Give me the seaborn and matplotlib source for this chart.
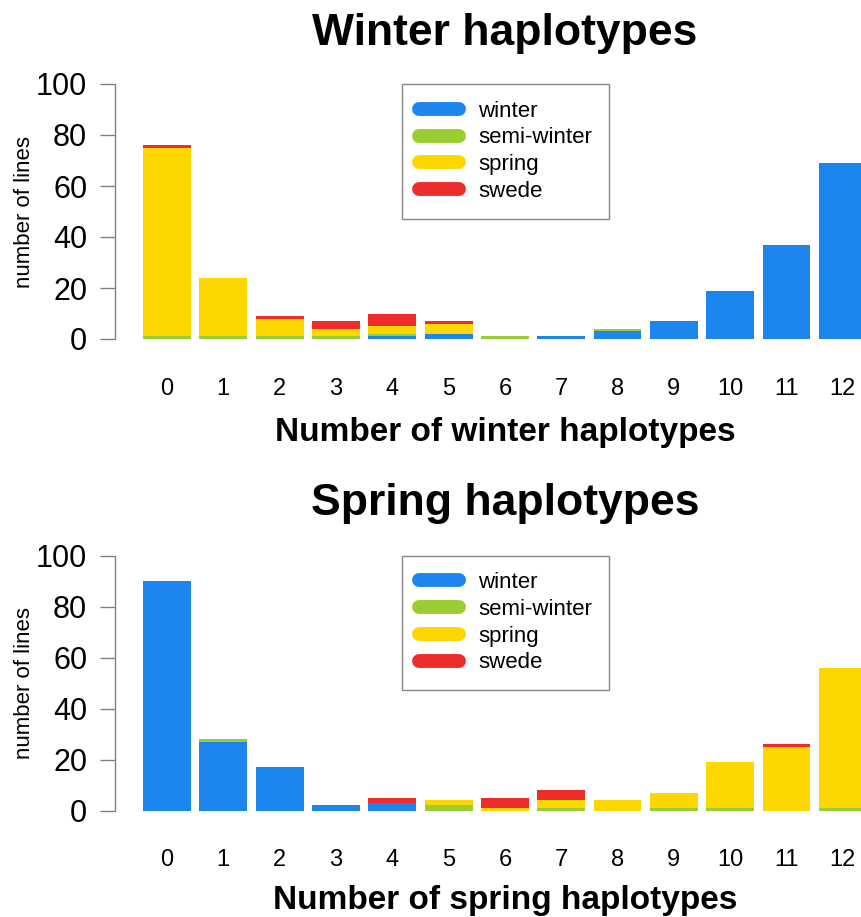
import pandas as pd
import seaborn as sns
import matplotlib.pyplot as plt
from matplotlib.lines import Line2D

# --- DATA ---
n_haplotypes = list(range(13))
groups = ["winter", "semi-winter", "spring", "swede"]

# winter haplotypes panel (stack: winter, semi-winter, spring, swede)
w_winter = [0, 0, 0, 0, 1, 2, 0, 1, 3, 7, 19, 37, 69]
w_semi = [1, 1, 1, 1, 1, 0, 1, 0, 1, 0, 0, 0, 0]
w_spring = [74, 23, 7, 3, 3, 4, 0, 0, 0, 0, 0, 0, 0]
w_swede = [1, 0, 1, 3, 5, 1, 0, 0, 0, 0, 0, 0, 0]

# spring haplotypes panel
s_winter = [90, 27, 17, 2, 3, 0, 0, 0, 0, 0, 0, 0, 0]
s_semi = [0, 1, 0, 0, 0, 2, 0, 1, 0, 1, 1, 0, 1]
s_spring = [0, 0, 0, 0, 0, 2, 1, 3, 4, 6, 18, 25, 55]
s_swede = [0, 0, 0, 0, 2, 0, 4, 4, 0, 0, 0, 1, 0]

colors = ["#1C86EE", "#9ACD32", "#FFD700", "#EE2C2C"]


def long_table(series):
    rows = []
    for g, vals in zip(groups, series):
        for n, v in zip(n_haplotypes, vals):
            rows.append({"n": n, "type": g, "count": v})
    return pd.DataFrame(rows)


df_w = long_table([w_winter, w_semi, w_spring, w_swede])
df_s = long_table([s_winter, s_semi, s_spring, s_swede])

# --- STYLE ---
sns.set_style("white")
plt.rcParams["font.family"] = ["Liberation Sans", "DejaVu Sans"]
plt.rcParams["text.color"] = "black"
plt.rcParams["xtick.color"] = "black"
plt.rcParams["ytick.color"] = "black"
plt.rcParams["axes.labelcolor"] = "black"

fig = plt.figure(figsize=(8.62, 9.17), dpi=100)
W, H = 862, 917

panels = [
    (df_w, 339, "Winter haplotypes", 33, "Number of winter haplotypes", 433),
    (df_s, 810.5, "Spring haplotypes", 504, "Number of spring haplotypes", 900),
]

for df, y0, title, title_y, xlab, xlab_y in panels:
    ax = fig.add_axes([115 / W, 1 - y0 / H, (W - 115) / W, 255 / H])
    # reversed hue order so winter ends up at the bottom of each stack
    sns.histplot(data=df, x="n", hue="type", weights="count", multiple="stack",
                 discrete=True, shrink=0.85, hue_order=groups[::-1],
                 palette=dict(zip(groups, colors)), linewidth=0, alpha=1,
                 legend=False, ax=ax)
    ax.set_xlim(-0.923, 12.34)
    ax.set_ylim(0, 100)
    ax.set_yticks([0, 20, 40, 60, 80, 100])
    ax.set_xticks(n_haplotypes)
    ax.set_xticklabels([str(n) for n in n_haplotypes])
    for s in ["top", "right", "bottom"]:
        ax.spines[s].set_visible(False)
    ax.spines["left"].set_color("#808080")
    ax.spines["left"].set_linewidth(1)
    ax.tick_params(axis="y", length=11, width=1, color="#808080", labelsize=22, pad=9,
                   direction="out", left=True)
    ax.tick_params(axis="x", length=0, labelsize=17, pad=28)
    ax.set_xlabel("")
    ax.set_ylabel("number of lines", fontsize=16)
    ax.yaxis.set_label_coords(-(115 - 35) / 747, 0.5)

    handles = [Line2D([0], [0], color=c, lw=10, solid_capstyle="round") for c in colors]
    leg = ax.legend(handles, groups, loc="upper left", bbox_to_anchor=(0.384, 1.0),
                    borderaxespad=0, fontsize=16, handlelength=1.8, labelspacing=0.26,
                    frameon=True, fancybox=False, framealpha=1, borderpad=0.75,
                    handletextpad=0.9)
    leg.get_frame().set_edgecolor("#888888")
    leg.get_frame().set_linewidth(1)

    fig.text(505 / W, 1 - title_y / H, title, ha="center", va="center",
             fontsize=32, fontweight="bold")
    fig.text(505 / W, 1 - xlab_y / H, xlab, ha="center", va="center",
             fontsize=24, fontweight="bold")

plt.savefig("out.png", dpi=100)
